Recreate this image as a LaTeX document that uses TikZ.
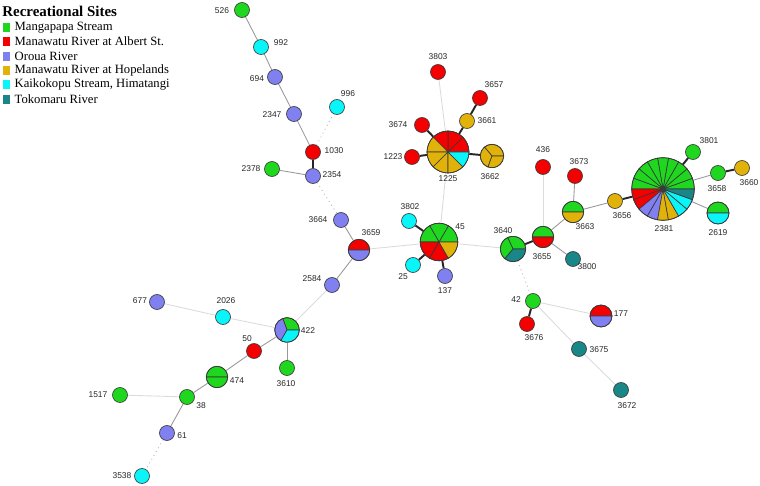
\documentclass[tikz,border=0pt]{standalone}
\usepackage{fontspec}
\setmainfont{Liberation Serif}
\newfontfamily\labelfont{Liberation Sans}
\usepackage{tikz}
\usetikzlibrary{positioning, backgrounds}
\definecolor{stGreen}{RGB}{30,215,30}
\definecolor{stRed}{RGB}{245,0,0}
\definecolor{stBlue}{RGB}{128,128,240}
\definecolor{stYellow}{RGB}{224,178,10}
\definecolor{stCyan}{RGB}{10,245,250}
\definecolor{stTeal}{RGB}{25,135,135}
\definecolor{rim}{RGB}{55,55,55}
\tikzset{
  % MST nodes
  site/.style={circle, draw=rim, line width=0.35pt, fill=#1, minimum size=3mm, inner sep=0pt},
  piesite/.style={circle, minimum size=#1, inner sep=0pt},
  lbl/.style={font=\labelfont\fontsize{4.8}{5}\selectfont, text=black!85, inner sep=0pt},
  % connectors
  link/.style={draw=black!40, line width=0.5pt},
  strong/.style={draw=black!85, line width=1.1pt},
  weak/.style={draw=black!14, line width=0.5pt},
  dotlink/.style={draw=black!30, line width=0.5pt, dotted},
  % legend
  keybox/.style={rectangle, fill=#1, minimum width=1.55mm, minimum height=1.8mm, inner sep=0pt},
  keytext/.style={font=\fontsize{7.2}{8}\selectfont, inner sep=0pt, anchor=west},
}
% slices of a pie node: name, radius, list start/end/colour
\newcommand{\pieslices}[3]{%
  \foreach \a/\b/\c in {#3}
    \filldraw[fill=\c, draw=rim, line width=0.35pt] (#1.center) -- ++(\a:#2) arc[start angle=\a, end angle=\b, radius=#2] -- cycle;
  \draw[rim, line width=0.35pt] (#1.center) circle[radius=#2];
}

\begin{document}
\begin{tikzpicture}[x=0.2mm, y=-0.2mm]
  \useasboundingbox (0,0) rectangle (760,486);

  % Legend
  \node[anchor=west, inner sep=0pt, font=\bfseries\fontsize{8.5}{9}\selectfont] (keytitle) at (2,11.7) {Recreational Sites};
  \foreach \i/\col/\txt in {0/stGreen/{Mangapapa Stream}, 1/stRed/{Manawatu River at Albert St.}, 2/stBlue/{Oroua River},
      3/stYellow/{Manawatu River at Hopelands}, 4/stCyan/{Kaikokopu Stream, Himatangi}, 5/stTeal/{Tokomaru River}} {
    \node[keybox=\col] (key\i) at (6.6, 27.3+14.4*\i) {};
    \node[keytext, right=0.7mm of key\i] (keytxt\i) {\txt};
  }

  % Single isolates
  \foreach \id/\x/\y/\col/\lx/\ly in {
      526/242/10/stGreen/222/11, 992/261/47/stCyan/281/43, 694/275/77/stBlue/257/79,
      2347/294/114/stBlue/272/115, 996/337/107/stCyan/348/94, 1030/313/152/stRed/334/151,
      2378/272/169/stGreen/251/169, 2354/313/176/stBlue/332/175, 3664/341/220/stBlue/318/220,
      2584/332/285/stBlue/312/279, 3803/438/72/stRed/438/57, 3657/480/98/stRed/494/85,
      3674/422/125/stRed/398/125, 1223/412/157/stRed/393/157, 3661/467/121/stYellow/487/121,
      3802/409/221/stCyan/410/207, 25/413/265/stCyan/403/277, 137/445/276/stBlue/445/291,
      436/543/167/stRed/543/150, 3673/575/176/stRed/579/162, 3656/615/201/stYellow/622/216,
      3800/573/259/stTeal/587/267, 3801/693/152/stGreen/709/141, 3658/718/173/stGreen/717/189,
      3660/742/168/stYellow/749/183, 42/533/301/stGreen/516/300, 3676/527/324/stRed/534/338,
      3675/579/349/stTeal/599/350, 3672/621/390/stTeal/627/406, 2026/223/317/stCyan/226/301,
      677/157/302/stBlue/140/301, 50/254/351/stRed/247/339, 3610/287/368/stGreen/286/384,
      38/187/397/stGreen/201/406, 1517/120/395/stGreen/98/395, 61/167/433/stBlue/182/436,
      3538/142/476/stCyan/122/476} {
    \node[site=\col] (n\id) at (\x,\y) {};
    \node[lbl] (t\id) at (\lx,\ly) {\id};
  }

  % Grouped isolates
  \node[piesite=4.28mm] (n3659) at (359,250) {};
  \pieslices{n3659}{2.14mm}{0/180/stRed, 180/360/stBlue}
  \node[lbl] (t3659) at (371,233) {3659};

  \node[piesite=8.4mm] (n1225) at (448,152) {};
  \pieslices{n1225}{4.2mm}{0/45/stRed, 45/90/stRed, 90/135/stRed, 135/180/stYellow, 180/225/stYellow,
    225/270/stYellow, 270/315/stYellow, 315/360/stCyan}
  \node[lbl] (t1225) at (448,179) {1225};

  \node[piesite=4.68mm] (n3662) at (492,156) {};
  \pieslices{n3662}{2.34mm}{0/130/stYellow, 130/250/stYellow, 250/360/stYellow}
  \node[lbl] (t3662) at (490,177) {3662};

  \node[piesite=7.52mm] (n45) at (439,242) {};
  \pieslices{n45}{3.76mm}{0/60/stGreen, 60/120/stGreen, 120/180/stGreen, 180/240/stRed, 240/300/stRed, 300/360/stYellow}
  \node[lbl] (t45) at (460,227) {45};

  \node[piesite=5.08mm] (n3640) at (513,249) {};
  \pieslices{n3640}{2.54mm}{0/115/stGreen, 115/230/stGreen, 230/360/stTeal}
  \node[lbl] (t3640) at (503,231) {3640};

  \node[piesite=4.28mm] (n3655) at (543,237) {};
  \pieslices{n3655}{2.14mm}{0/180/stGreen, 180/360/stRed}
  \node[lbl] (t3655) at (542,257) {3655};

  \node[piesite=4.28mm] (n3663) at (573,212) {};
  \pieslices{n3663}{2.14mm}{0/180/stGreen, 180/360/stYellow}
  \node[lbl] (t3663) at (585,227) {3663};

  \node[piesite=12.52mm] (n2381) at (663,189) {};
  \pieslices{n2381}{6.26mm}{0/20/stGreen, 20/40/stGreen, 40/60/stGreen, 60/80/stGreen, 80/100/stGreen,
    100/120/stGreen, 120/140/stGreen, 140/160/stGreen, 160/180/stGreen, 180/200/stRed, 200/220/stRed,
    220/240/stBlue, 240/260/stBlue, 260/280/stYellow, 280/300/stYellow, 300/320/stCyan, 320/340/stCyan,
    340/360/stTeal}
  \node[lbl] (t2381) at (664,229) {2381};

  \node[piesite=4.4mm] (n2619) at (718,213) {};
  \pieslices{n2619}{2.2mm}{0/180/stGreen, 180/360/stCyan}
  \node[lbl] (t2619) at (718,233) {2619};

  \node[piesite=4.4mm] (n177) at (601,316) {};
  \pieslices{n177}{2.2mm}{0/180/stRed, 180/360/stBlue}
  \node[lbl] (t177) at (621,314) {177};

  \node[piesite=4.92mm] (n422) at (287,330) {};
  \pieslices{n422}{2.46mm}{0/110/stGreen, 110/240/stBlue, 240/360/stCyan}
  \node[lbl] (t422) at (308,331) {422};

  \node[piesite=4.28mm] (n474) at (217,377) {};
  \pieslices{n474}{2.14mm}{0/180/stGreen, 180/360/stGreen}
  \node[lbl] (t474) at (237,381) {474};

  % Connectors
  \begin{scope}[on background layer]
    \foreach \p/\q in {526/992, 992/694, 694/2347, 2347/1030, 2354/2378, 3664/3659, 3659/2584, 422/50,
        50/474, 474/38, 38/61, 422/3610, 3655/3663, 3663/3673, 3663/3656, 3655/3800, 2381/3658, 2381/2619}
      \draw[link] (n\p) -- (n\q);
    \foreach \p/\q in {1030/2354, 1225/3674, 1225/1223, 1225/3661, 3661/3657, 1225/3662, 45/3802, 45/25,
        45/137, 3640/3655, 2381/3656, 2381/3801, 3658/3660, 42/3676}
      \draw[strong] (n\p) -- (n\q);
    \foreach \p/\q in {3803/1225, 1225/45, 3659/45, 45/3640, 3655/436, 2584/422, 2026/422, 677/2026,
        1517/38, 42/177, 42/3675, 3675/3672}
      \draw[weak] (n\p) -- (n\q);
    \foreach \p/\q in {1030/996, 2354/3664, 61/3538, 3640/42}
      \draw[dotlink] (n\p) -- (n\q);
  \end{scope}
\end{tikzpicture}
\end{document}
